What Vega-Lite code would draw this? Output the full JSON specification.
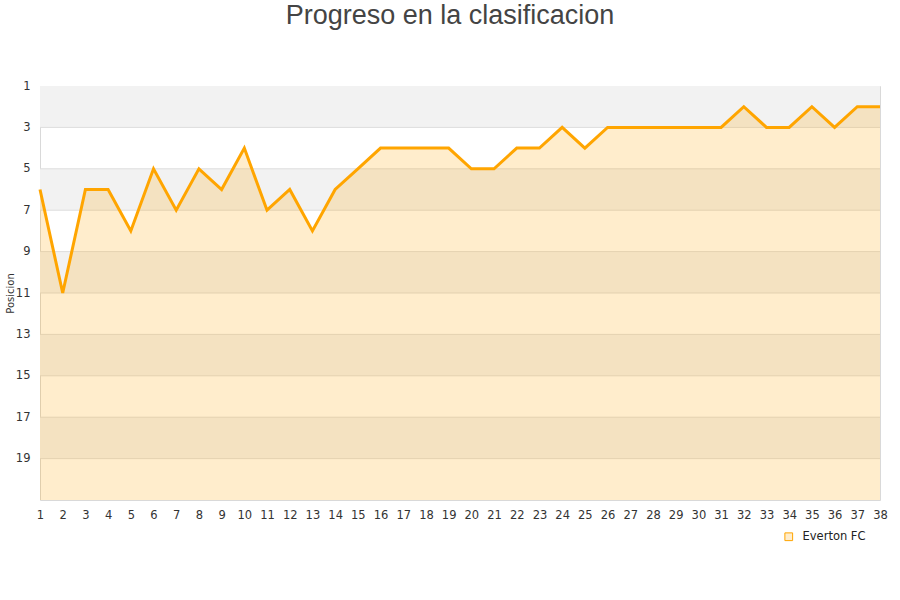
{
  "$schema": "https://vega.github.io/schema/vega-lite/v6.json",
  "width": 840,
  "height": 414,
  "autosize": "none",
  "padding": {"left": 40, "top": 86, "right": 20, "bottom": 100},
  "background": "white",
  "title": {"text": "Progreso en la clasificacion", "font": "Liberation Sans", "fontSize": 27, "fontWeight": "normal", "color": "#444444", "anchor": "middle", "dx": -10, "offset": 50},
  "config": {
    "view": {"stroke": "#d9d9d9", "strokeWidth": 1},
    "font": "DejaVu Sans",
    "axisX": {"labelOverlap": false}
  },
  "datasets": {
    "bands": [
      {"b0": 1, "b1": 3}, {"b0": 5, "b1": 7}, {"b0": 9, "b1": 11}, {"b0": 13, "b1": 15}, {"b0": 17, "b1": 19}
    ],
    "grid": [
      {"g": 3}, {"g": 5}, {"g": 7}, {"g": 9}, {"g": 11}, {"g": 13}, {"g": 15}, {"g": 17}, {"g": 19}
    ],
    "pos": [
      {"jornada": 1, "posicion": 6, "equipo": "Everton FC"},
      {"jornada": 2, "posicion": 11, "equipo": "Everton FC"},
      {"jornada": 3, "posicion": 6, "equipo": "Everton FC"},
      {"jornada": 4, "posicion": 6, "equipo": "Everton FC"},
      {"jornada": 5, "posicion": 8, "equipo": "Everton FC"},
      {"jornada": 6, "posicion": 5, "equipo": "Everton FC"},
      {"jornada": 7, "posicion": 7, "equipo": "Everton FC"},
      {"jornada": 8, "posicion": 5, "equipo": "Everton FC"},
      {"jornada": 9, "posicion": 6, "equipo": "Everton FC"},
      {"jornada": 10, "posicion": 4, "equipo": "Everton FC"},
      {"jornada": 11, "posicion": 7, "equipo": "Everton FC"},
      {"jornada": 12, "posicion": 6, "equipo": "Everton FC"},
      {"jornada": 13, "posicion": 8, "equipo": "Everton FC"},
      {"jornada": 14, "posicion": 6, "equipo": "Everton FC"},
      {"jornada": 15, "posicion": 5, "equipo": "Everton FC"},
      {"jornada": 16, "posicion": 4, "equipo": "Everton FC"},
      {"jornada": 17, "posicion": 4, "equipo": "Everton FC"},
      {"jornada": 18, "posicion": 4, "equipo": "Everton FC"},
      {"jornada": 19, "posicion": 4, "equipo": "Everton FC"},
      {"jornada": 20, "posicion": 5, "equipo": "Everton FC"},
      {"jornada": 21, "posicion": 5, "equipo": "Everton FC"},
      {"jornada": 22, "posicion": 4, "equipo": "Everton FC"},
      {"jornada": 23, "posicion": 4, "equipo": "Everton FC"},
      {"jornada": 24, "posicion": 3, "equipo": "Everton FC"},
      {"jornada": 25, "posicion": 4, "equipo": "Everton FC"},
      {"jornada": 26, "posicion": 3, "equipo": "Everton FC"},
      {"jornada": 27, "posicion": 3, "equipo": "Everton FC"},
      {"jornada": 28, "posicion": 3, "equipo": "Everton FC"},
      {"jornada": 29, "posicion": 3, "equipo": "Everton FC"},
      {"jornada": 30, "posicion": 3, "equipo": "Everton FC"},
      {"jornada": 31, "posicion": 3, "equipo": "Everton FC"},
      {"jornada": 32, "posicion": 2, "equipo": "Everton FC"},
      {"jornada": 33, "posicion": 3, "equipo": "Everton FC"},
      {"jornada": 34, "posicion": 3, "equipo": "Everton FC"},
      {"jornada": 35, "posicion": 2, "equipo": "Everton FC"},
      {"jornada": 36, "posicion": 3, "equipo": "Everton FC"},
      {"jornada": 37, "posicion": 2, "equipo": "Everton FC"},
      {"jornada": 38, "posicion": 2, "equipo": "Everton FC"}
    ]
  },
  "layer": [
    {
      "data": {"name": "bands"},
      "mark": {"type": "rect", "color": "#f2f2f2"},
      "encoding": {
        "y": {"field": "b0", "type": "quantitative",
          "scale": {"domain": [1, 21], "reverse": true, "nice": false, "zero": false},
          "axis": {"title": "Posicion", "titleFontSize": 10, "titleFontWeight": "normal", "titleColor": "#333333", "titlePadding": 0, "values": [1,3,5,7,9,11,13,15,17,19], "grid": false, "ticks": false, "domain": false, "labelFontSize": 11.5, "labelColor": "#333333", "labelPadding": 10}
        },
        "y2": {"field": "b1"}
      }
    },
    {
      "data": {"name": "grid"},
      "mark": {"type": "rule", "color": "#dddddd", "strokeWidth": 1},
      "encoding": {
        "y": {"field": "g", "type": "quantitative"}
      }
    },
    {
      "data": {"name": "pos"},
      "mark": {"type": "area", "color": "#FFA500", "opacity": 0.2},
      "encoding": {
        "x": {"field": "jornada", "type": "ordinal", "sort": "ascending",
          "scale": {"type": "point", "padding": 0},
          "axis": {"title": null, "grid": false, "ticks": false, "domain": false, "labelAngle": 0, "labelFontSize": 11.5, "labelColor": "#333333", "labelPadding": 9, "labelOverlap": false}
        },
        "y": {"field": "posicion", "type": "quantitative"},
        "y2": {"datum": 21}
      }
    },
    {
      "data": {"name": "pos"},
      "mark": {"type": "line", "color": "#FFA500", "strokeWidth": 3},
      "encoding": {
        "x": {"field": "jornada", "type": "ordinal", "sort": "ascending"},
        "y": {"field": "posicion", "type": "quantitative"},
        "color": {"field": "equipo", "type": "nominal", "scale": {"range": ["#FFA500"]},
          "legend": {"title": null, "orient": "none", "legendX": 743, "legendY": 445, "symbolType": "square", "symbolSize": 60, "symbolFillColor": "#FFEDCC", "symbolStrokeColor": "#777777", "symbolStrokeWidth": 1, "labelFontSize": 11.5, "labelOffset": 8, "labelColor": "#222222",
            "encode": {"symbols": {"enter": {"fill": {"value": "#FFEDCC"}, "stroke": {"value": "#777777"}, "strokeWidth": {"value": 1}}, "update": {"fill": {"value": "#FFEDCC"}, "stroke": {"value": "#777777"}, "strokeWidth": {"value": 1}}}}}
        }
      }
    }
  ]
}
